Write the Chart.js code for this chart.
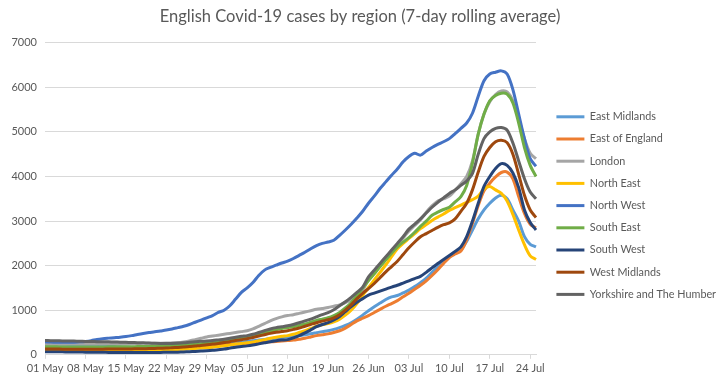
<!DOCTYPE html>
<html><head><meta charset="utf-8">
<script src="https://cdn.jsdelivr.net/npm/chart.js@4.4.1/dist/chart.umd.min.js"></script>
<style>html,body{margin:0;padding:0;background:#fff;}#wrap{width:720px;height:381px;}</style>
</head><body><div id="wrap"><canvas id="c" width="720" height="381"></canvas></div>
<script>
const categories = [
'01 May','02 May','03 May','04 May','05 May','06 May','07 May','08 May','09 May','10 May','11 May','12 May','13 May','14 May','15 May','16 May',
'17 May','18 May','19 May','20 May','21 May','22 May','23 May','24 May','25 May','26 May','27 May','28 May','29 May','30 May','31 May',
'01 Jun','02 Jun','03 Jun','04 Jun','05 Jun','06 Jun','07 Jun','08 Jun','09 Jun','10 Jun','11 Jun','12 Jun','13 Jun','14 Jun','15 Jun',
'16 Jun','17 Jun','18 Jun','19 Jun','20 Jun','21 Jun','22 Jun','23 Jun','24 Jun','25 Jun','26 Jun','27 Jun','28 Jun','29 Jun','30 Jun',
'01 Jul','02 Jul','03 Jul','04 Jul','05 Jul','06 Jul','07 Jul','08 Jul','09 Jul','10 Jul','11 Jul','12 Jul','13 Jul','14 Jul','15 Jul',
'16 Jul','17 Jul','18 Jul','19 Jul','20 Jul','21 Jul','22 Jul','23 Jul','24 Jul','25 Jul'];
const tickLabels = ['01 May','08 May','15 May','22 May','29 May','05 Jun','12 Jun','19 Jun','26 Jun','03 Jul','10 Jul','17 Jul','24 Jul'];
const yTicks = [0,1000,2000,3000,4000,5000,6000,7000];

const eastMidlands = [240,236,232,228,224,220,215, 210,205,200,195,190,185,180, 175,170,165,160,157,154,152, 150,150,152,155,160,166,173,
 180,195,210,230,250,270,285, 300,315,330,345,360,375,390, 400,415,430,450,470,495,520, 540,570,610,660,720,800,890,
 990,1080,1160,1240,1300,1330,1390, 1450,1530,1620,1720,1850,1970,2090, 2200,2280,2350,2550,2800,3050,3250,
 3400,3520,3580,3500,3250,3000,2650, 2480,2420];
const eastOfEngland = [150,150,148,147,146,145,143, 140,139,138,137,136,136,135, 135,135,135,136,137,138,139, 140,143,147,152,160,170,180,
 190,200,210,220,230,240,245, 250,260,270,280,290,300,310, 320,330,350,370,400,430,450, 470,500,540,600,680,760,820,
 880,950,1020,1090,1150,1215,1300, 1380,1470,1560,1660,1780,1910,2050, 2180,2260,2330,2580,2950,3350,3680,
 3850,3990,4090,4100,3950,3550,3170, 2930,2850];
const london = [230,232,235,238,240,240,240, 240,242,245,245,248,250,250, 250,252,255,257,258,260,260, 262,268,275,290,310,340,370,
 400,420,440,460,480,500,520, 540,580,640,700,760,810,850, 880,900,930,960,990,1020,1040, 1060,1090,1120,1170,1230,1320,1450,
 1680,1830,1980,2150,2330,2480,2620, 2780,2900,3030,3200,3340,3450,3500, 3560,3690,3840,4000,4350,4950,5400,
 5680,5840,5920,5900,5700,5300,4850, 4520,4400];
const northEast = [100,100,98,97,96,95,95, 95,94,94,93,93,94,94, 95,96,97,99,101,104,107, 110,115,120,127,135,143,150,
 160,172,185,200,220,240,255, 270,290,315,340,370,395,415, 430,460,500,540,590,640,675, 700,740,800,890,1000,1150,1330,
 1510,1680,1850,2020,2200,2380,2500, 2610,2720,2830,2920,3015,3090,3160, 3240,3300,3360,3420,3480,3560,3720,
 3775,3700,3620,3450,3150,2800,2470, 2220,2140];
const northWest = [290,285,282,280,280,284,290, 300,318,345,362,374,385,396, 410,430,455,478,498,515,535, 555,580,610,640,680,730,780,
 830,880,950,1000,1100,1250,1400, 1500,1620,1780,1900,1960,2010,2060, 2100,2160,2230,2300,2380,2450,2500, 2530,2570,2680,2800,2930,3070,3220,
 3400,3560,3730,3880,4030,4170,4330, 4450,4520,4480,4570,4650,4720,4780, 4850,4960,5080,5200,5420,5800,6150,
 6300,6340,6370,6300,5950,5400,4850, 4400,4230];
const southEast = [180,180,178,177,176,175,175, 175,175,176,177,178,179,180, 180,182,184,186,189,193,196, 200,206,212,220,230,240,250,
 260,275,290,305,325,345,365, 380,410,450,490,530,560,590, 610,630,660,690,730,770,800, 830,880,950,1050,1170,1330,1500,
 1665,1820,1980,2130,2280,2420,2530, 2630,2750,2880,3000,3130,3200,3260, 3310,3430,3550,3800,4300,4950,5400,
 5700,5820,5870,5850,5650,5200,4650, 4250,4000];
const southWest = [70,68,67,66,65,64,62, 60,58,56,55,54,52,51, 50,50,50,51,52,53,54, 55,57,60,65,70,76,83,
 90,100,115,130,150,170,185, 200,220,245,270,295,315,330, 340,380,430,490,560,630,680, 720,780,860,970,1080,1180,1260,
 1340,1385,1430,1475,1520,1560,1610, 1660,1710,1760,1850,1950,2050,2140, 2230,2320,2420,2650,3000,3400,3780,
 4000,4180,4290,4250,4080,3750,3250, 2970,2800];
const westMidlands = [130,130,128,127,126,125,125, 125,125,126,127,128,129,130, 130,132,134,137,140,144,147, 150,158,166,175,185,198,210,
 225,240,255,275,295,320,340, 360,390,420,450,480,505,525, 540,570,600,640,680,720,755, 785,830,900,1000,1120,1260,1380,
 1485,1600,1730,1860,1980,2100,2250, 2400,2530,2650,2720,2790,2860,2920, 2960,3050,3220,3400,3700,4100,4450,
 4650,4780,4815,4760,4500,4050,3580, 3250,3080];
const yorkshire = [320,318,315,312,310,308,305, 300,298,295,292,290,287,284, 280,277,273,268,263,258,255, 255,256,260,268,280,292,302,
 310,320,335,350,370,395,415, 430,460,500,540,580,610,630, 650,680,720,760,800,850,900, 945,1010,1100,1190,1290,1400,1520,
 1750,1900,2050,2200,2350,2500,2650, 2820,2930,3050,3180,3310,3420,3520, 3620,3700,3800,3900,4070,4500,4850,
 5000,5080,5100,5040,4750,4350,3950, 3650,3500];

const regionNames = ['East Midlands','East of England','London','North East','North West','South East','South West','West Midlands','Yorkshire and The Humber'];
const regionSeries = [eastMidlands,eastOfEngland,london,northEast,northWest,southEast,southWest,westMidlands,yorkshire];
const regionColors = ['#5B9BD5','#ED7D31','#A5A5A5','#FFC000','#4472C4','#70AD47','#264478','#9E480E','#636363'];

const textColor = '#595959';
const gridColor = '#d9d9d9';
const fontFamily = 'Lato, Carlito, "Liberation Sans", sans-serif';

const legendWidthPlugin = {
  id: 'legendWidth',
  beforeUpdate(chart) {
    const lg = chart.legend;
    if (!lg || lg._patched) return;
    const orig = lg.fit;
    lg.fit = function () { orig.call(this); if (this.options.display) this.width = 175; };
    lg._patched = true;
  }
};

new Chart(document.getElementById('c'), {
  type: 'line',
  data: {
    labels: categories,
    datasets: regionNames.map((name, i) => ({
      label: name,
      data: regionSeries[i],
      borderColor: regionColors[i],
      backgroundColor: regionColors[i],
      borderWidth: 3,
      pointRadius: 0,
      tension: 0.3,
      fill: false,
      order: regionNames.length - 1 - i
    }))
  },
  plugins: [legendWidthPlugin],
  options: {
    responsive: false,
    animation: false,
    layout: { padding: { left: 0, right: 0, top: 0, bottom: 3 } },
    plugins: {
      title: {
        display: true,
        text: 'English Covid-19 cases by region (7-day rolling average)',
        color: textColor,
        font: { family: fontFamily, size: 16.5, weight: 'normal' },
        padding: { top: 7, bottom: 16 }
      },
      legend: {
        position: 'right',
        align: 'start',
        title: { display: true, text: '', font: { size: 10 }, padding: { top: 88, bottom: 0 } },
        labels: {
          boxWidth: 28,
          boxHeight: 3,
          padding: 11.4,
          color: textColor,
          font: { family: fontFamily, size: 10.8 },
          sort: (a, b) => a.datasetIndex - b.datasetIndex,
          generateLabels: chart => Chart.defaults.plugins.legend.labels.generateLabels(chart).map(l => Object.assign(l, { lineWidth: 0 }))
        }
      },
      tooltip: { enabled: false }
    },
    scales: {
      x: {
        ticks: {
          autoSkip: false,
          maxRotation: 0,
          minRotation: 0,
          color: textColor,
          font: { family: fontFamily, size: 11 },
          padding: 3,
          callback: (v, i) => tickLabels.includes(categories[i]) ? categories[i] : ''
        },
        grid: {
          drawOnChartArea: false,
          drawTicks: true,
          tickLength: 4,
          color: c => (c.index !== undefined && tickLabels.includes(categories[c.index])) ? gridColor : 'rgba(0,0,0,0)'
        },
        border: { color: gridColor }
      },
      y: {
        min: yTicks[0],
        max: yTicks[yTicks.length - 1],
        ticks: { stepSize: 1000, color: textColor, font: { family: fontFamily, size: 11 }, padding: 8, callback: v => String(v) },
        grid: { color: gridColor, drawTicks: false },
        border: { display: false },
        afterFit: s => { s.width = 45; }
      },
      y2: {
        position: 'right',
        display: true,
        ticks: { display: false },
        grid: { display: false },
        border: { display: false },
        afterFit: s => { s.width = 9; }
      }
    }
  }
});
</script>
</body></html>
